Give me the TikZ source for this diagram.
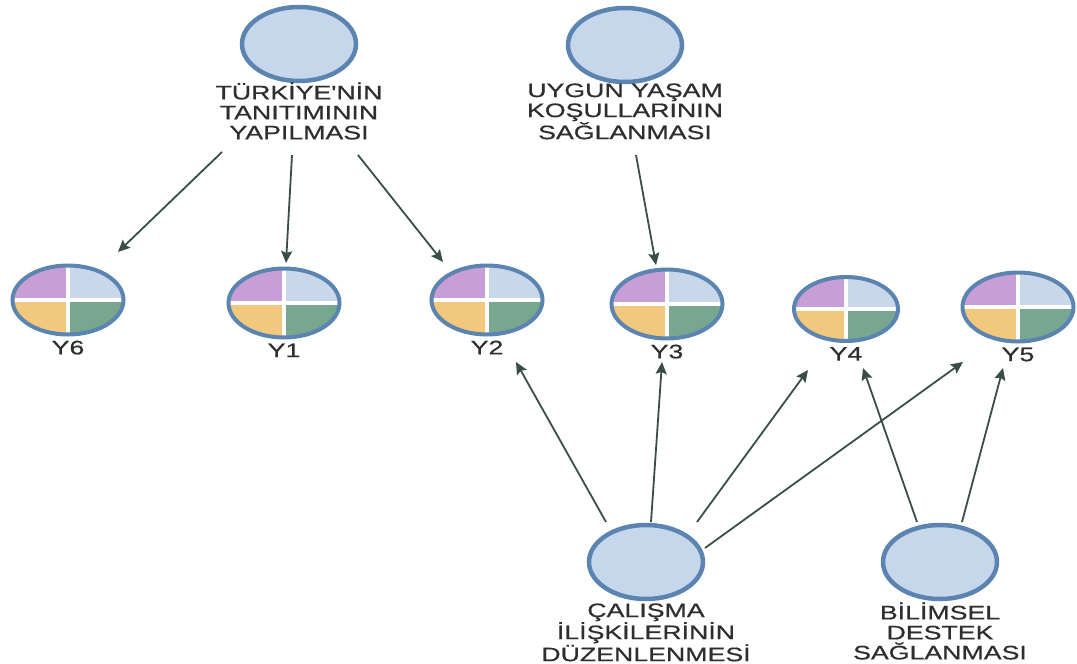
\documentclass[tikz,border=0pt]{standalone}
\usepackage{fontspec}
\usepackage{tikz}
\usetikzlibrary{positioning,arrows.meta,shapes.geometric}

\newfontfamily\lblfont[FakeStretch=1.37,FakeBold=0.6]{Liberation Sans}

\definecolor{rimblue}{HTML}{5B84B1}
\definecolor{circfill}{HTML}{C6D7EC}
\definecolor{qpurple}{HTML}{C79ED6}
\definecolor{qblue}{HTML}{C8D7EA}
\definecolor{qyellow}{HTML}{F2C77E}
\definecolor{qgreen}{HTML}{78A68F}
\definecolor{arrgray}{HTML}{3A4D49}
\definecolor{txtgray}{HTML}{2E2E2E}

\tikzset{
  goal/.style={ellipse, draw=rimblue, fill=circfill, line width=4.5pt,
    minimum width=114pt, minimum height=74pt, inner sep=0pt},
  lbl/.style={align=center, inner sep=0pt, text=txtgray,
    font=\lblfont\fontsize{19.5}{20}\selectfont},
  ynode/.style={ellipse, draw=rimblue, line width=4pt, inner sep=0pt,
    minimum width=111pt, minimum height=69pt,
    label={[lbl, label distance=4pt]below:#1},
    path picture={
      \fill[qpurple] (path picture bounding box.center) rectangle (path picture bounding box.north west);
      \fill[qblue] (path picture bounding box.center) rectangle (path picture bounding box.north east);
      \fill[qyellow] (path picture bounding box.center) rectangle (path picture bounding box.south west);
      \fill[qgreen] (path picture bounding box.center) rectangle (path picture bounding box.south east);
      \draw[white, line width=4.5pt] (path picture bounding box.north) -- (path picture bounding box.south);
      \draw[white, line width=4.5pt] (path picture bounding box.west) -- (path picture bounding box.east);
    }},
  arr/.style={draw=arrgray, line width=1.8pt,
    -{Stealth[length=12pt,width=11pt,inset=2pt]}}
}

\begin{document}
\begin{tikzpicture}[x=1pt,y=-1pt]
\useasboundingbox (0,0) rectangle (1077,664);

% goal circles
\node[goal] (turk) at (299,44) {};
\node[goal] (uygun) at (625,45) {};
\node[goal] (calisma) at (646,562) {};
\node[goal] (bilimsel) at (940,562) {};

\node[lbl, below=-1pt of turk] (turktxt) {TÜRKİYE'NİN\\TANITIMININ\\YAPILMASI};
\node[lbl, below=-1pt of uygun] (uyguntxt) {UYGUN YAŞAM\\KOŞULLARININ\\SAĞLANMASI};
\node[lbl, below=2pt of calisma] (calismatxt) {ÇALIŞMA\\İLİŞKİLERİNİN\\DÜZENLENMESİ};
\node[lbl, below=1pt of bilimsel] (bilimseltxt) {BİLİMSEL\\DESTEK\\SAĞLANMASI};

% target pies
\node[ynode=Y6] (y6) at (68,300) {};
\node[ynode=Y1] (y1) at (284,303) {};
\node[ynode=Y2] (y2) at (487,300) {};
\node[ynode=Y3] (y3) at (667,304) {};
\node[ynode=Y4, minimum width=104pt, minimum height=64pt] (y4) at (846,309) {};
\node[ynode=Y5] (y5) at (1018,307) {};

% links
\foreach \a/\sa/\b/\sb in {turk/{-77,108}/y6/{50,-48}, turk/{-7,111}/y1/{2,-40},
    turk/{59,111}/y2/{-44,-38}, uygun/{11,110}/y3/{-11,-39},
    calisma/{-40,-40}/y2/{29,62}, calisma/{5,-40}/y3/{-5,58},
    calisma/{51,-40}/y4/{-38,61}, calisma/{59,-14}/y5/{-55,55},
    bilimsel/{-23,-40}/y4/{17,59}, bilimsel/{22,-40}/y5/{-15,61}}
  \draw[arr] ([shift={(\sa)}]\a.center) -- ([shift={(\sb)}]\b.center);
\end{tikzpicture}
\end{document}
